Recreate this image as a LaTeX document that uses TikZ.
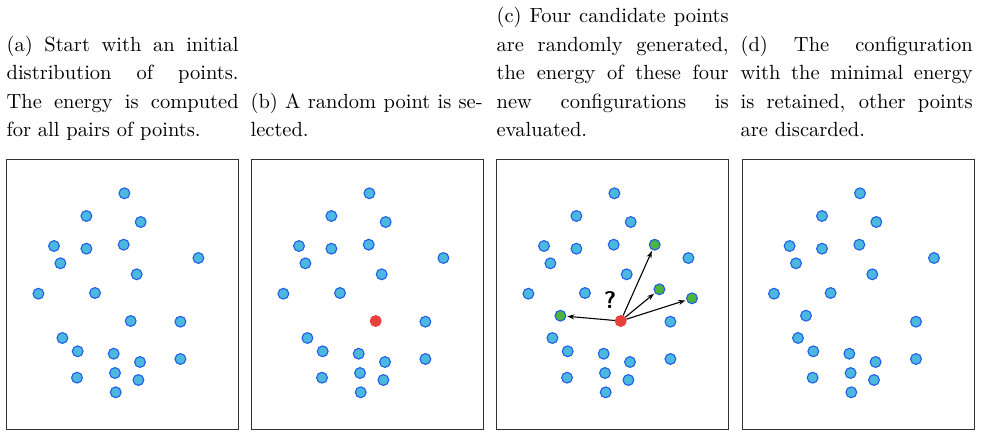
\documentclass[tikz,border=0pt]{standalone}
\usetikzlibrary{arrows.meta}

\definecolor{ptfill}{HTML}{4DB8DE}
\definecolor{ptline}{HTML}{1F5FE8}
\definecolor{selfill}{HTML}{E8403A}
\definecolor{candfill}{HTML}{4CB43C}

\tikzset{
  panel/.style={draw=black!80, line width=0.9pt},
  pt/.style={circle, inner sep=0pt, minimum size=10.8pt, fill=ptfill, draw=ptline, line width=1.1pt},
  chosen/.style={pt, fill=selfill, draw=selfill},
  cand/.style={pt, fill=candfill},
  try/.style={-{Stealth[length=7pt,width=5pt]}, line width=1.1pt, shorten >=1pt},
  caption/.style={anchor=south west, inner sep=0pt, text width=113.2pt, align=justify,
    font=\fontsize{10}{13.9}\selectfont, scale=2.05, transform shape}
}

% points shared by every panel (without the selected one)
\newcommand\basepts{117.7/34.3, 79.7/57, 134/63, 47.3/87, 79.7/89.7, 117/85.7,
  53.7/104.3, 191.7/99, 130/115.3, 31.7/134.7, 88.3/134, 173.7/162.7,
  55.7/179, 71/192.3, 107/194.7, 133.3/203, 173.7/200, 70.3/218.7,
  108.3/214, 131.7/221, 109/233.3}

\begin{document}
\begin{tikzpicture}[x=1pt, y=-1pt]
  \useasboundingbox (0,0) rectangle (981,431);

  % Legendas
  \node[caption] (cap-a) at (6.2,145.6) {(a) Start with an initial\linebreak
    distribution of points.\linebreak The energy is computed\linebreak
    for all pairs of points.\strut};
  \node[caption] (cap-b) at (250.2,145.6) {(b) A random point is se-\linebreak
    lected.\strut};
  \node[caption] (cap-c) at (496.2,145.6) {(c) Four candidate points\linebreak
    are randomly generated,\linebreak the energy of these four\linebreak
    new configurations is\linebreak evaluated.\strut};
  \node[caption] (cap-d) at (740.2,145.6) {(d) The configuration\linebreak
    with the minimal energy\linebreak is retained, other points\linebreak
    are discarded.\strut};

  % Painel (a)
  \begin{scope}[shift={(6.7,159)}]
    \draw[panel] (0,0) rectangle (231.7,270.3);
    \foreach \px/\py [count=\i] in \basepts
      \node[pt] (a-\i) at (\px,\py) {};
    \node[pt] (a-sel) at (124,162) {};
  \end{scope}

  % Painel (b)
  \begin{scope}[shift={(251.7,159)}]
    \draw[panel] (0,0) rectangle (231.7,270.3);
    \foreach \px/\py [count=\i] in \basepts
      \node[pt] (b-\i) at (\px,\py) {};
    \node[chosen] (b-sel) at (124,162) {};
  \end{scope}

  % Painel (c)
  \begin{scope}[shift={(496.7,159)}]
    \draw[panel] (0,0) rectangle (231.7,270.3);
    \foreach \px/\py [count=\i] in \basepts
      \node[pt] (c-\i) at (\px,\py) {};
    \node[chosen] (c-sel) at (124,162) {};
    \node[cand] (c-g1) at (63.7,156.7) {};
    \node[cand] (c-g2) at (158,85.7) {};
    \node[cand] (c-g3) at (162.7,130.3) {};
    \node[cand] (c-g4) at (195.3,139.3) {};
    \draw[try] (c-sel) -- (c-g1);
    \draw[try] (c-sel) -- (c-g2);
    \draw[try] (c-sel) -- (c-g3);
    \draw[try] (c-sel) -- (c-g4);
    \node[font=\sffamily\bfseries\fontsize{24}{24}\selectfont] (c-q) at (113.3,141) {?};
  \end{scope}

  % Painel (d)
  \begin{scope}[shift={(742.3,159)}]
    \draw[panel] (0,0) rectangle (231.7,270.3);
    \foreach \px/\py [count=\i] in \basepts
      \node[pt] (d-\i) at (\px,\py) {};
    \node[pt] (d-new) at (63.7,156.7) {};
  \end{scope}
\end{tikzpicture}
\end{document}
